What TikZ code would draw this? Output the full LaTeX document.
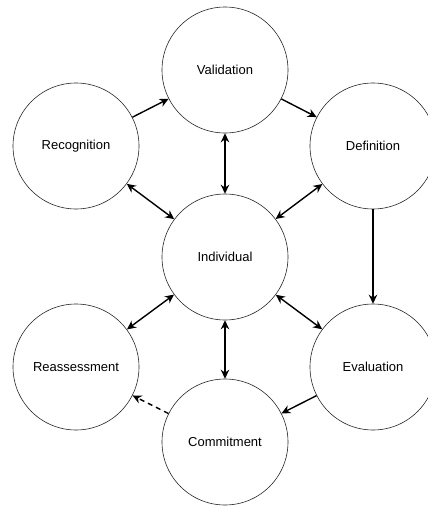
\documentclass[tikz,border=0pt]{standalone}
\usepackage{fontspec}
\setmainfont{Liberation Sans}
\usetikzlibrary{arrows.meta}
\begin{document}
\begin{tikzpicture}[x=1pt,y=-1pt,
  stage/.style={circle,draw=black!85,line width=0.6pt,minimum size=126pt,inner sep=0pt,font=\fontsize{13}{15}\selectfont},
  link/.style={line width=1.4pt,-{Stealth[length=9pt,width=8.5pt]}},
  dlink/.style={line width=1.4pt,{Stealth[length=9pt,width=8.5pt]}-{Stealth[length=9pt,width=8.5pt]}},
  dashlink/.style={line width=1.4pt,dashed,dash pattern=on 5pt off 4pt,-{Stealth[length=9pt,width=8.5pt]}}]
\useasboundingbox (0,0) rectangle (428,506);
\node[stage] (val) at (225,70) {Validation};
\node[stage] (rec) at (76,146) {Recognition};
\node[stage] (def) at (373,146) {Definition};
\node[stage] (ind) at (225,257) {Individual};
\node[stage] (rea) at (76,367) {Reassessment};
\node[stage] (eva) at (373,367) {Evaluation};
\node[stage] (com) at (225,442) {Commitment};
\draw[link] (rec) -- (val);
\draw[link] (val) -- (def);
\draw[dlink] (val) -- (ind);
\draw[dlink] (rec) -- (ind);
\draw[dlink] (def) -- (ind);
\draw[link] (def) -- (eva);
\draw[dlink] (ind) -- (rea);
\draw[dlink] (ind) -- (eva);
\draw[dlink] (ind) -- (com);
\draw[link] (eva) -- (com);
\draw[dashlink] (com) -- (rea);
\end{tikzpicture}
\end{document}
